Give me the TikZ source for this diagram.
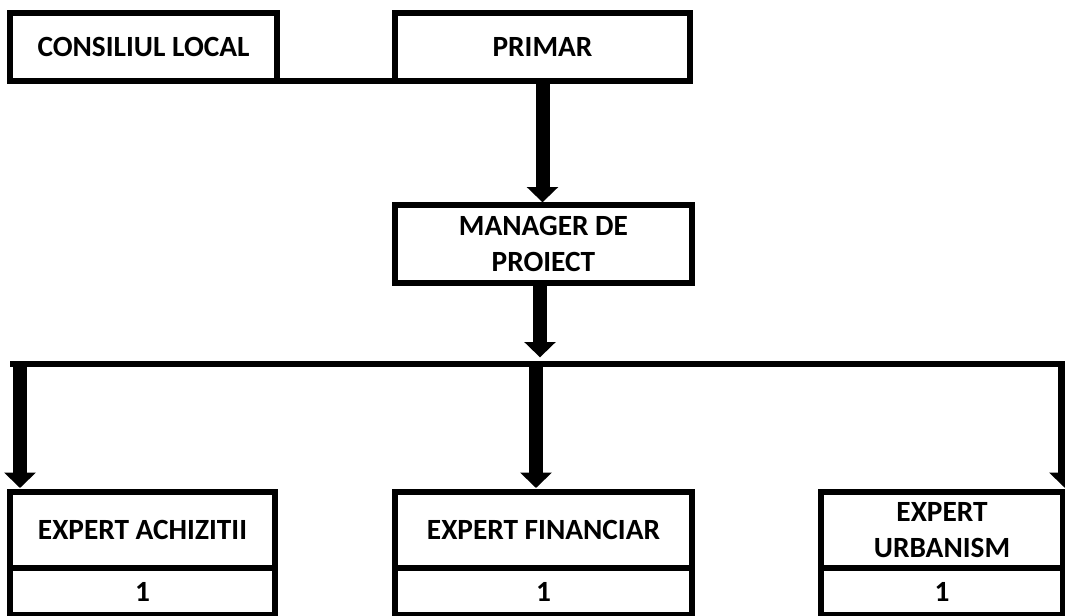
\documentclass[tikz,border=0pt]{standalone}
\usepackage{fontspec}
\setmainfont{Carlito}
\usetikzlibrary{arrows.meta}
\begin{document}
\begin{tikzpicture}[x=0.75pt,y=-0.75pt,
  box/.style={draw,line width=4.5pt,outer sep=0pt,inner sep=0pt,anchor=north west,
    align=center,font=\fontsize{22}{27.5}\selectfont\bfseries},
  arr/.style={line width=10.5pt,-{Triangle[width=23pt,length=11.5pt]}},
  conn/.style={line width=4pt}]
  \clip (0,0) rectangle (1065,615);
  \node[box,minimum width=200.25pt,minimum height=51pt] (cons) at (10,13) {CONSILIUL LOCAL};
  \node[box,minimum width=221.25pt,minimum height=51pt] (primar) at (395,13) {PRIMAR};
  \node[box,minimum width=222.75pt,minimum height=58.5pt] (manager) at (395,205) {MANAGER DE\\PROIECT};
  \node[box,minimum width=198.75pt,minimum height=57pt] (achiz) at (10,492) {EXPERT ACHIZITII};
  \node[box,minimum width=198.75pt,minimum height=35.25pt] (achizn) at (10,568) {1};
  \node[box,minimum width=222.75pt,minimum height=57pt] (finan) at (395,492) {EXPERT FINANCIAR};
  \node[box,minimum width=222.75pt,minimum height=35.25pt] (finann) at (395,568) {1};
  \node[box,minimum width=181.5pt,minimum height=57pt] (urban) at (821,492) {EXPERT\\URBANISM};
  \node[box,minimum width=181.5pt,minimum height=35.25pt] (urbann) at (821,568) {1};
  \coordinate (busl) at (10,364);
  \coordinate (busr) at (1070,364);
  \coordinate (bus) at (540,364);
  \coordinate (b1) at (20,364);
  \coordinate (b2) at (536,364);
  \coordinate (b3) at (1065,364);
  \draw[conn] (cons.south east) -- (primar.south west);
  \draw[arr,shorten >=2pt] (primar.south) -- (primar.south |- manager.north);
  \draw[arr,shorten >=5pt] (manager.south -| bus) -- (bus);
  \draw[line width=4pt] (busl) -- (busr);
  \draw[arr,shorten >=3pt] (b1) -- (b1 |- achiz.north);
  \draw[arr,shorten >=3pt] (b2) -- (b2 |- finan.north);
  \draw[arr,shorten >=3pt] (b3) -- (b3 |- urban.north);
\end{tikzpicture}
\end{document}
